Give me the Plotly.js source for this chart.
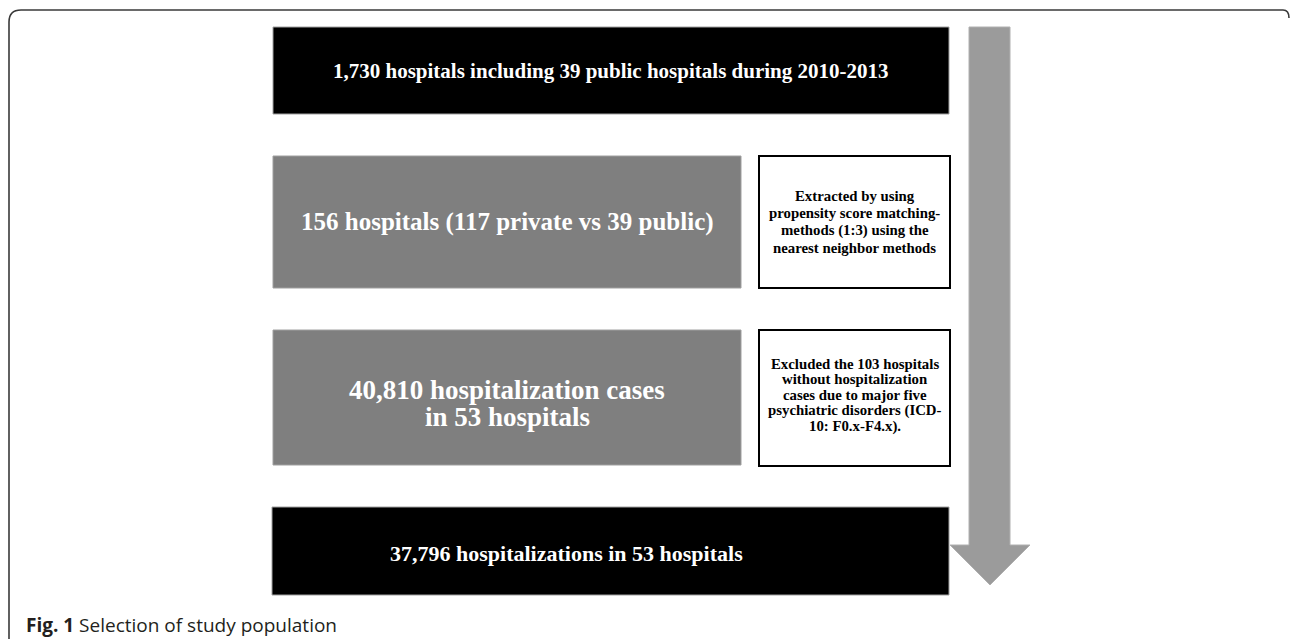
<!DOCTYPE html>
<html>
<head>
<meta charset="utf-8">
<script src="https://cdn.plot.ly/plotly-3.0.1.min.js"></script>
<style>
html,body{margin:0;padding:0;background:#fff;}
#chart{width:1290px;height:639px;}
</style>
</head>
<body>
<div id="chart"></div>
<script>
// ---- content ----
const stepLabels = [
  ["1,730 hospitals including 39 public hospitals during 2010-2013"],
  ["156 hospitals (117 private vs 39 public)"],
  ["40,810 hospitalization cases", "in 53 hospitals"],
  ["37,796 hospitalizations in 53 hospitals"]
];
const noteLines1 = ["Extracted by using", "propensity score matching-", "methods (1:3) using the", "nearest neighbor methods"];
const noteLines2 = ["Excluded the 103 hospitals", "without hospitalization", "cases due to major five", "psychiatric disorders (ICD-", "10: F0.x-F4.x)."];
const captionBold = "Fig. 1";
const captionText = "Selection of study population";

// ---- layout geometry ----
const stepBoxes = [
  {x0:273, x1:949, y0:27,  y1:114, fill:"#000000", size:21, tx:611, ty:71, gap:0},
  {x0:273, x1:741, y0:156, y1:288, fill:"#7f7f7f", size:25, tx:507, ty:222, gap:0},
  {x0:273, x1:741, y0:330, y1:465, fill:"#7f7f7f", size:27, tx:507, ty:403, gap:27},
  {x0:272, x1:949, y0:507, y1:595, fill:"#000000", size:22, tx:566, ty:553, gap:0}
];
const noteBoxes = [
  {x0:759, x1:950, y0:156, y1:288, lines:noteLines1, ty:222, gap:17.3},
  {x0:759, x1:950, y0:330, y1:466, lines:noteLines2, ty:395, gap:15.7}
];

const shapes = [];
const annotations = [];
const serif = "Liberation Serif, Times New Roman, serif";

// outer frame
shapes.push({type:"path", xref:"x", yref:"y",
  path:"M 9,639 L 9,22 Q 9,10 21,10 L 1283,10 Q 1289,10 1289,18",
  line:{color:"#3a3a3a", width:1.6}, fillcolor:"rgba(0,0,0,0)"});

// arrow
shapes.push({type:"path", xref:"x", yref:"y",
  path:"M 969,27 L 1010,27 L 1010,545 L 1030,545 L 990,585 L 950,545 L 969,545 Z",
  fillcolor:"#9b9b9b", line:{color:"#b0b0b0", width:1}, layer:"below"});

function addLines(lines, cx, cy, gap, size, color){
  const n = lines.length;
  lines.forEach((t,k)=>{
    annotations.push({xref:"x", yref:"y", x:cx, y:cy + (k-(n-1)/2)*gap, showarrow:false,
      xanchor:"center", yanchor:"middle",
      text:"<b>"+t+"</b>", font:{family:serif, size:size, color:color}});
  });
}

stepBoxes.forEach((b,i)=>{
  shapes.push({type:"rect", xref:"x", yref:"y", x0:b.x0, x1:b.x1, y0:b.y0, y1:b.y1,
    fillcolor:b.fill, line:{color:"#a0a0a0", width:1}});
  addLines(stepLabels[i], b.tx, b.ty, b.gap, b.size, "#ffffff");
});

noteBoxes.forEach(b=>{
  shapes.push({type:"rect", xref:"x", yref:"y", x0:b.x0, x1:b.x1, y0:b.y0, y1:b.y1,
    fillcolor:"#ffffff", line:{color:"#000000", width:2}});
  addLines(b.lines, (b.x0+b.x1)/2, b.ty, b.gap, 14.8, "#000000");
});

annotations.push({xref:"x", yref:"y", x:24, y:625, xanchor:"left", yanchor:"middle", showarrow:false,
  text:"<b>"+captionBold+"</b> "+captionText,
  font:{family:"Open Sans, Noto Sans, sans-serif", size:19, color:"#231f20"}});

const layout = {
  width:1290, height:639,
  margin:{l:0,r:0,t:0,b:0},
  paper_bgcolor:"#ffffff", plot_bgcolor:"#ffffff",
  xaxis:{range:[0,1290], visible:false, fixedrange:true},
  yaxis:{range:[639,0], visible:false, fixedrange:true},
  showlegend:false,
  shapes:shapes,
  annotations:annotations
};

Plotly.newPlot("chart", [{x:[], y:[], type:"scatter", mode:"markers"}], layout, {staticPlot:true, displayModeBar:false});
</script>
</body>
</html>
